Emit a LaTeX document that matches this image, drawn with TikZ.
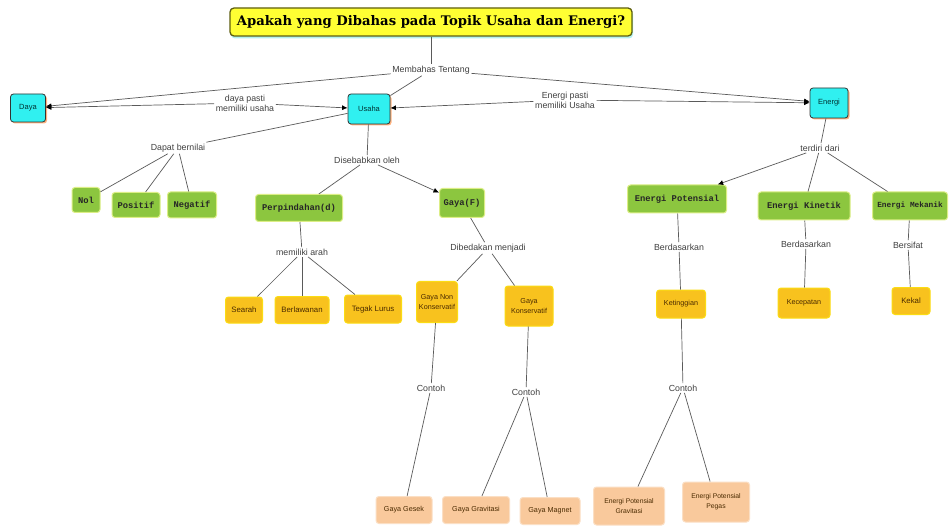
\documentclass[tikz,border=0pt]{standalone}
\usepackage{fontspec}
\setmainfont{Liberation Sans}
\setmonofont{Liberation Mono}
\newfontfamily\titlefont{DejaVu Serif}
\usetikzlibrary{arrows.meta,shadows}

\definecolor{cyanbox}{HTML}{30F0F0}
\definecolor{greenfill}{HTML}{8CC63F}
\definecolor{goldfill}{HTML}{F8C21E}
\definecolor{peachfill}{HTML}{F9C99C}
\definecolor{titlefill}{HTML}{FFFF33}
\definecolor{titleborder}{HTML}{5E5E10}
\definecolor{linkcol}{HTML}{5A5A5A}
\definecolor{txtbrown}{HTML}{4A2A00}

\tikzset{
  base/.style={rounded corners=3pt, align=center, inner sep=1pt},
  concept/.style={base, draw=black!80, line width=0.8pt, fill=cyanbox,
    font=\fontsize{7.5}{8}\selectfont, text=black!60!teal,
    drop shadow={fill=orange!80!red, opacity=0.5, shadow xshift=1.5pt, shadow yshift=-1.5pt}},
  greenbox/.style={base, fill=greenfill, draw=greenfill!55!yellow!55!white, line width=1pt,
    font=\ttfamily\bfseries\fontsize{8.8}{9}\selectfont, text=black!85},
  goldbox/.style={base, fill=goldfill, draw=yellow!55!goldfill, line width=1pt,
    font=\fontsize{7.8}{9}\selectfont, text=txtbrown},
  peachbox/.style={base, fill=peachfill, draw=peachfill!60!white, line width=1pt,
    font=\fontsize{7.2}{9}\selectfont, text=txtbrown},
  lbl/.style={inner sep=1.5pt, align=center, font=\fontsize{8.8}{9}\selectfont, text=black!75},
  link/.style={draw=linkcol, line width=0.7pt},
  arr/.style={link, -{Latex[length=5.5pt,width=5pt,color=black]}},
}

\begin{document}
\begin{tikzpicture}[x=1pt,y=-1pt]
\fill[white] (0,0) rectangle (949,526);
\useasboundingbox (0,0) rectangle (949,526);

% title
\node[base, rounded corners=4pt, fill=titlefill, draw=titleborder, line width=1.3pt,
  minimum width=402pt, minimum height=28pt,
  drop shadow={fill=teal!40!cyan!50, opacity=0.6, shadow xshift=1pt, shadow yshift=-2.5pt}]
  (title) at (431,22) {\resizebox{388pt}{!}{\titlefont\bfseries Apakah yang Dibahas pada Topik Usaha dan Energi?}};

% concepts (cyan)
\node[concept, minimum width=35pt, minimum height=28pt] (daya) at (28,108) {Daya};
\node[concept, minimum width=42pt, minimum height=30pt] (usaha) at (369,109) {Usaha};
\node[concept, minimum width=38pt, minimum height=30pt] (energi) at (829,103) {Energi};

% green
\node[greenbox, minimum width=28pt, minimum height=25pt] (nol) at (86,200) {Nol};
\node[greenbox, minimum width=48pt, minimum height=25pt] (positif) at (136,205) {Positif};
\node[greenbox, minimum width=49pt, minimum height=26pt] (negatif) at (192,205) {Negatif};
\node[greenbox, minimum width=87pt, minimum height=27pt] (perp) at (299,208) {Perpindahan(d)};
\node[greenbox, minimum width=45pt, minimum height=29pt] (gayaF) at (462,203) {Gaya(F)};
\node[greenbox, minimum width=99pt, minimum height=28pt] (epot) at (677,199) {Energi Potensial};
\node[greenbox, minimum width=92pt, minimum height=28pt] (ekin) at (804,206) {Energi Kinetik};
\node[greenbox, minimum width=75pt, minimum height=28pt, font=\ttfamily\bfseries\fontsize{7.8}{9}\selectfont] (emek) at (910,206) {Energi Mekanik};

% gold
\node[goldbox, minimum width=37pt, minimum height=26pt] (searah) at (244,310) {Searah};
\node[goldbox, minimum width=54pt, minimum height=27pt] (berlawanan) at (302,310) {Berlawanan};
\node[goldbox, minimum width=57pt, minimum height=28pt] (tegak) at (373,309) {Tegak Lurus};
\node[goldbox, minimum width=41pt, minimum height=41pt, font=\fontsize{7.2}{9.5}\selectfont] (nonkons) at (437,302) {Gaya Non\\Konservatif};
\node[goldbox, minimum width=48pt, minimum height=40pt, font=\fontsize{7.2}{9.5}\selectfont] (kons) at (529,306) {Gaya\\Konservatif};
\node[goldbox, minimum width=49pt, minimum height=28pt, font=\fontsize{7.2}{9}\selectfont] (ketinggian) at (681,304) {Ketinggian};
\node[goldbox, minimum width=52pt, minimum height=30pt, font=\fontsize{7.2}{9}\selectfont] (kecepatan) at (804,303) {Kecepatan};
\node[goldbox, minimum width=38pt, minimum height=27pt] (kekal) at (911,301) {Kekal};

% peach
\node[peachbox, minimum width=56pt, minimum height=27pt] (gesek) at (404,510) {Gaya Gesek};
\node[peachbox, minimum width=67pt, minimum height=27pt] (gravitasi) at (476,510) {Gaya Gravitasi};
\node[peachbox, minimum width=60pt, minimum height=27pt] (magnet) at (550,511) {Gaya Magnet};
\node[peachbox, minimum width=71pt, minimum height=38pt, font=\fontsize{6.8}{10}\selectfont] (epgrav) at (629,506) {Energi Potensial\\Gravitasi};
\node[peachbox, minimum width=67pt, minimum height=40pt, font=\fontsize{6.8}{10}\selectfont] (eppegas) at (716,502) {Energi Potensial\\Pegas};

% linking phrases
\node[lbl] (membahas) at (431,70) {Membahas Tentang};
\node[lbl, font=\fontsize{8.8}{10}\selectfont] (dayapasti) at (245,103) {daya pasti\\memiliki usaha};
\node[lbl, font=\fontsize{8.8}{10}\selectfont] (energipasti) at (565,100) {Energi pasti\\memiliki Usaha};
\node[lbl] (dapat) at (178,148) {Dapat bernilai};
\node[lbl] (disebabkan) at (367,160) {Disebabkan oleh};
\node[lbl] (arah) at (302,252) {memiliki arah};
\node[lbl] (dibedakan) at (488,248) {Dibedakan menjadi};
\node[lbl] (contohA) at (431,388) {Contoh};
\node[lbl] (contohB) at (526,392) {Contoh};
\node[lbl] (terdiri) at (820,148) {terdiri dari};
\node[lbl] (berdA) at (679,247) {Berdasarkan};
\node[lbl] (berdB) at (806,244) {Berdasarkan};
\node[lbl] (bersifat) at (908,245) {Bersifat};
\node[lbl] (contohC) at (683,388) {Contoh};

% connectors
\draw[link] (title) -- (membahas);
\draw[arr] (membahas) -- (daya);
\draw[link] (membahas) -- (usaha);
\draw[arr] (membahas) -- (energi);
\draw[arr] (dayapasti) -- (daya);
\draw[arr] (dayapasti) -- (usaha);
\draw[arr] (energipasti) -- (usaha);
\draw[arr] (energipasti) -- (energi);

\draw[link] (usaha) -- (dapat);
\draw[link] (dapat) -- (nol);
\draw[link] (dapat) -- (positif);
\draw[link] (dapat) -- (negatif);

\draw[link] (usaha) -- (disebabkan);
\draw[link] (disebabkan) -- (perp);
\draw[arr] (disebabkan) -- (gayaF);

\draw[link] (perp) -- (arah);
\draw[link] (arah) -- (searah);
\draw[link] (arah) -- (berlawanan);
\draw[link] (arah) -- (tegak);

\draw[link] (gayaF) -- (dibedakan);
\draw[link] (dibedakan) -- (nonkons);
\draw[link] (dibedakan) -- (kons);
\draw[link] (nonkons) -- (contohA);
\draw[link] (contohA) -- (gesek);
\draw[link] (kons) -- (contohB);
\draw[link] (contohB) -- (gravitasi);
\draw[link] (contohB) -- (magnet);

\draw[link] (energi) -- (terdiri);
\draw[arr] (terdiri) -- (epot);
\draw[link] (terdiri) -- (ekin);
\draw[link] (terdiri) -- (emek);

\draw[link] (epot) -- (berdA);
\draw[link] (berdA) -- (ketinggian);
\draw[link] (ketinggian) -- (contohC);
\draw[link] (contohC) -- (epgrav);
\draw[link] (contohC) -- (eppegas);
\draw[link] (ekin) -- (berdB);
\draw[link] (berdB) -- (kecepatan);
\draw[link] (emek) -- (bersifat);
\draw[link] (bersifat) -- (kekal);
\end{tikzpicture}
\end{document}
